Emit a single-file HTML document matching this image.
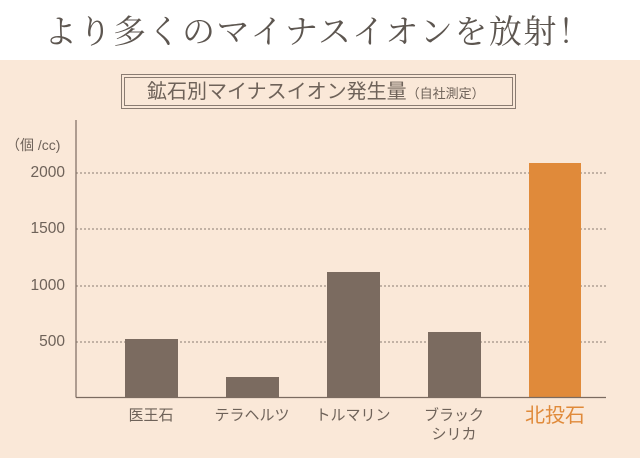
<!DOCTYPE html>
<html><head><meta charset="utf-8"><style>
body{margin:0;width:640px;height:458px;overflow:hidden;background:#fff;font-family:"Liberation Sans","Noto Sans CJK JP",sans-serif;}
.bg{position:absolute;left:0;top:60px;width:640px;height:398px;background:#fae8d8;}
.t{position:absolute;white-space:nowrap;color:#6e6259;}
</style></head><body>
<div class="bg"></div>
<div class="t" style="left:44px;top:6px;font-family:'Noto Serif CJK SC',serif;font-size:33px;line-height:48px;color:#5d5650;letter-spacing:1.5px;">より多くのマイナスイオンを放射！</div>
<div style="position:absolute;left:121px;top:74px;width:393px;height:33px;border:1px solid #8a7c72;"></div>
<div style="position:absolute;left:124px;top:77px;width:387px;height:27px;border:1px solid #8a7c72;"></div>
<div class="t" style="left:147px;top:78px;font-size:20px;line-height:28px;">鉱石別マイナスイオン発生量<span style="font-size:13px;">（自社測定）</span></div>
<svg style="position:absolute;left:0;top:0" width="640" height="458">
<g stroke="#8a7c72" stroke-width="1" stroke-dasharray="2,2">
<line x1="76" y1="173" x2="606" y2="173"/><line x1="76" y1="229" x2="606" y2="229"/>
<line x1="76" y1="286" x2="606" y2="286"/><line x1="76" y1="342" x2="606" y2="342"/>
</g>
<g fill="#7b6b60">
<rect x="125" y="339" width="53" height="58"/>
<rect x="226" y="377" width="53" height="20"/>
<rect x="327" y="272" width="53" height="125"/>
<rect x="428" y="332" width="53" height="65"/>
</g>
<rect x="529" y="163" width="52" height="234" fill="#e08a3a"/>
<line x1="76" y1="120" x2="76" y2="397.5" stroke="#7b6b60" stroke-width="1.2"/>
<line x1="76" y1="397.5" x2="606" y2="397.5" stroke="#7b6b60" stroke-width="1.2"/>
</svg>
<div class="t" style="left:6px;top:136px;font-size:14px;line-height:18px;">（個 /cc)</div>
<div class="t" style="left:0;width:65px;text-align:right;top:164px;font-size:15.5px;line-height:18px;">2000</div>
<div class="t" style="left:0;width:65px;text-align:right;top:220px;font-size:15.5px;line-height:18px;">1500</div>
<div class="t" style="left:0;width:65px;text-align:right;top:277px;font-size:15.5px;line-height:18px;">1000</div>
<div class="t" style="left:0;width:65px;text-align:right;top:333px;font-size:15.5px;line-height:18px;">500</div>
<div class="t" style="left:101px;width:100px;text-align:center;top:406px;font-size:15px;line-height:20px;">医王石</div>
<div class="t" style="left:202px;width:100px;text-align:center;top:406px;font-size:15px;line-height:20px;">テラヘルツ</div>
<div class="t" style="left:303px;width:100px;text-align:center;top:406px;font-size:15px;line-height:20px;">トルマリン</div>
<div class="t" style="left:404px;width:100px;text-align:center;top:406px;font-size:15px;line-height:20px;">ブラック</div>
<div class="t" style="left:404px;width:100px;text-align:center;top:425px;font-size:15px;line-height:20px;">シリカ</div>
<div class="t" style="left:505px;width:100px;text-align:center;top:404px;font-size:20px;line-height:24px;color:#e08a3a;">北投石</div>
</body></html>
